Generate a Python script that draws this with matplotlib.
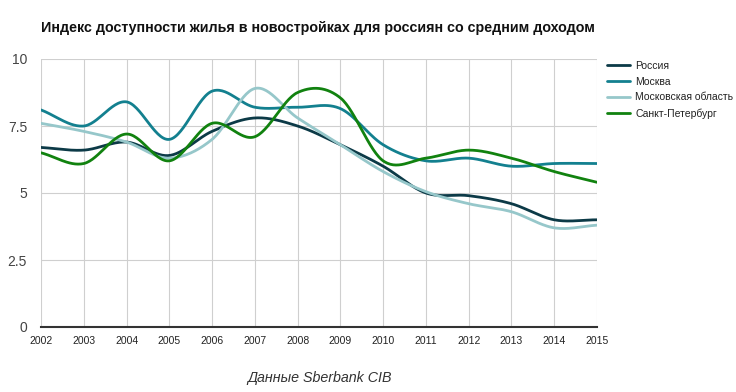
import numpy as np
import matplotlib
matplotlib.use("Agg")
import matplotlib.pyplot as plt

years = list(range(2002, 2016))
russia = [6.7, 6.6, 6.9, 6.4, 7.3, 7.8, 7.5, 6.8, 6.0, 5.0, 4.9, 4.6, 4.0, 4.0]
moscow = [8.1, 7.5, 8.4, 7.0, 8.8, 8.2, 8.2, 8.15, 6.8, 6.2, 6.3, 6.0, 6.1, 6.1]
mo_obl = [7.6, 7.3, 6.9, 6.3, 7.0, 8.9, 7.8, 6.8, 5.8, 5.05, 4.6, 4.3, 3.7, 3.8]
spb = [6.5, 6.1, 7.2, 6.2, 7.6, 7.1, 8.75, 8.55, 6.2, 6.3, 6.6, 6.3, 5.8, 5.4]
names = ["Россия", "Москва", "Московская область", "Санкт-Петербург"]
colors = ["#0c3a47", "#13808f", "#96c7ca", "#11820f"]
yticks = [0, 2.5, 5, 7.5, 10]
ytick_labels = ["0", "2.5", "5", "7.5", "10"]

plt.rcParams['font.family'] = ['Liberation Sans', 'DejaVu Sans']


def smooth(x, y, n=30):
    x = np.asarray(x, float)
    y = np.asarray(y, float)
    m = np.zeros_like(y)
    m[1:-1] = (y[2:] - y[:-2]) / (x[2:] - x[:-2])
    m[0] = (y[1] - y[0]) / (x[1] - x[0])
    m[-1] = (y[-1] - y[-2]) / (x[-1] - x[-2])
    xs, ys = [], []
    for i in range(len(x) - 1):
        h = x[i + 1] - x[i]
        t = np.linspace(0, 1, n, endpoint=False)
        h00 = 2 * t**3 - 3 * t**2 + 1
        h10 = t**3 - 2 * t**2 + t
        h01 = -2 * t**3 + 3 * t**2
        h11 = t**3 - t**2
        xs.append(x[i] + t * h)
        ys.append(h00 * y[i] + h10 * h * m[i] + h01 * y[i + 1] + h11 * h * m[i + 1])
    xs.append([x[-1]])
    ys.append([y[-1]])
    return np.concatenate(xs), np.concatenate(ys)


fig = plt.figure(figsize=(7.36, 3.92), dpi=100)
ax = fig.add_axes([41 / 736, 1 - 327 / 392, (597 - 41) / 736, (327 - 59) / 392])

for series, name, c in zip([russia, moscow, mo_obl, spb], names, colors):
    sx, sy = smooth(years, series)
    ax.plot(sx, sy, color=c, lw=2, label=name, solid_capstyle='round')

ax.set_xlim(2002, 2015)
ax.set_ylim(0, 10)
ax.set_xticks(years)
ax.set_xticklabels([str(y) for y in years], fontsize=7.5, color="#222222")
ax.set_yticks(yticks)
ax.set_yticklabels(ytick_labels, fontsize=10, color="#444444")
ax.grid(True, color="#cfcfcf", lw=0.8)
ax.set_axisbelow(True)
for s in ["top", "right", "left"]:
    ax.spines[s].set_visible(False)
ax.spines["bottom"].set_color("#333333")
ax.spines["bottom"].set_linewidth(1.5)
ax.tick_params(axis='both', length=0)
ax.tick_params(axis='x', pad=6.5)
ax.tick_params(axis='y', pad=10)

leg = ax.legend(loc="upper left", bbox_to_anchor=(1.005, 1.02), frameon=False,
                fontsize=7.5, handlelength=2.2, handletextpad=0.5, labelspacing=0.55,
                borderaxespad=0.3)
for t in leg.get_texts():
    t.set_color("#222222")

fig.text(41 / 736, 1 - 28 / 392, "Индекс доступности жилья в новостройках для россиян со средним доходом",
         fontsize=10.3, fontweight="bold", color="#111111", va="center", ha="left")
fig.text(320 / 736, 1 - 378 / 392, "Данные Sberbank CIB", fontsize=10.3, style="italic",
         color="#333333", ha="center", va="center")

fig.savefig("out.png", dpi=100)
